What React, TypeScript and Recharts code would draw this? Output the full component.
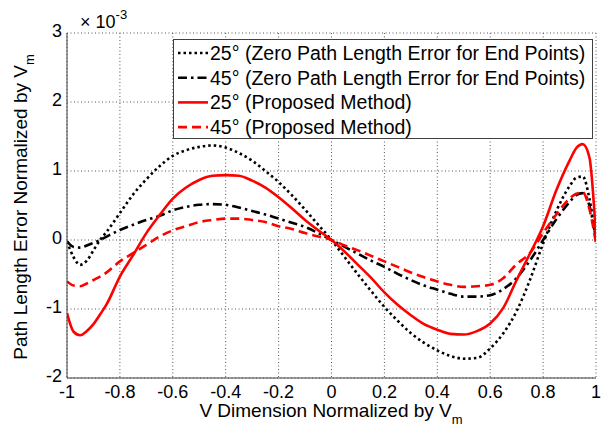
import React from "react";
import { LineChart, Line, XAxis, YAxis, CartesianGrid, Legend } from "recharts";

// x positions (V dimension normalized by Vm)
const xValues = [
  -1, -0.975, -0.95, -0.925, -0.9, -0.875, -0.85,
  -0.8, -0.75, -0.7, -0.65, -0.6, -0.55, -0.5, -0.45, -0.4, -0.35, -0.3, -0.25, -0.2, -0.15, -0.1, -0.05,
  0, 0.05, 0.1, 0.15, 0.2, 0.25, 0.3, 0.35, 0.4, 0.45, 0.5, 0.55, 0.6, 0.65, 0.7, 0.75, 0.8, 0.85, 0.9,
  0.925, 0.95, 0.975, 1,
];

// path length error, in units of 1e-3
const zero25 = [
  -0.02, -0.25, -0.36, -0.3, -0.15, 0.0, 0.12,
  0.39, 0.66, 0.88, 1.07, 1.22, 1.3, 1.35, 1.37, 1.34, 1.26, 1.15, 1.0, 0.84, 0.65, 0.44, 0.22,
  0, -0.25, -0.5, -0.74, -0.97, -1.17, -1.35, -1.49, -1.6, -1.68, -1.72, -1.71, -1.57, -1.35, -1.03, -0.58, -0.05, 0.42, 0.78,
  0.9, 0.92, 0.6, 0.0,
];
const zero45 = [
  -0.02, -0.1, -0.11, -0.08, -0.04, 0.0, 0.05,
  0.145, 0.22, 0.29, 0.35, 0.43, 0.48, 0.51, 0.52, 0.51, 0.47, 0.42, 0.37, 0.31, 0.25, 0.19, 0.1,
  0, -0.1, -0.2, -0.3, -0.39, -0.49, -0.58, -0.66, -0.72, -0.78, -0.82, -0.82, -0.8, -0.71, -0.55, -0.3, 0.0, 0.3, 0.55,
  0.65, 0.68, 0.5, 0.0,
];
const prop25 = [
  -1.06, -1.33, -1.38, -1.32, -1.22, -1.08, -0.93,
  -0.53, -0.22, 0.1, 0.36, 0.6, 0.76, 0.87, 0.93, 0.94, 0.93, 0.86, 0.76, 0.62, 0.46, 0.29, 0.14,
  0, -0.17, -0.36, -0.55, -0.76, -0.94, -1.09, -1.22, -1.3, -1.36, -1.37, -1.32, -1.21, -0.98, -0.58, -0.2, 0.2, 0.72, 1.15,
  1.33, 1.39, 1.2, 0.05,
];
const prop45 = [
  -0.6, -0.66, -0.67, -0.63, -0.58, -0.53, -0.47,
  -0.31, -0.19, -0.07, 0.05, 0.14, 0.2, 0.26, 0.29, 0.31, 0.31, 0.29, 0.26, 0.2, 0.16, 0.1, 0.05,
  0, -0.08, -0.15, -0.23, -0.31, -0.39, -0.47, -0.54, -0.6, -0.65, -0.68, -0.67, -0.65, -0.55, -0.35, -0.19, 0.1, 0.37, 0.6,
  0.67, 0.69, 0.45, -0.05,
];

const xTicks = [-1, -0.8, -0.6, -0.4, -0.2, 0, 0.2, 0.4, 0.6, 0.8, 1];
const yTicks = [-2, -1, 0, 1, 2, 3];

const seriesNames = [
  "25° (Zero Path Length Error for End Points)",
  "45° (Zero Path Length Error for End Points)",
  "25° (Proposed Method)",
  "45° (Proposed Method)",
];

const data = xValues.map((x, i) => ({
  x,
  zero25: zero25[i],
  zero45: zero45[i],
  prop25: prop25[i],
  prop45: prop45[i],
}));

const FONT = "'Liberation Sans', Arial, Helvetica, sans-serif";

const series = [
  { key: "zero25", name: seriesNames[0], color: "#000000", dash: "2.5 3", width: 2.6 },
  { key: "zero45", name: seriesNames[1], color: "#000000", dash: "9 4 2.5 4", width: 2.6 },
  { key: "prop25", name: seriesNames[2], color: "#ff0000", dash: undefined as string | undefined, width: 2.6 },
  { key: "prop45", name: seriesNames[3], color: "#ff0000", dash: "9 5", width: 2.6 },
];

const LegendBox = () => (
  <svg width={420} height={100} style={{ display: "block" }}>
    <rect x={0.5} y={0.5} width={419} height={99} fill="#ffffff" stroke="#404040" strokeWidth={1} />
    {series.map((s, i) => {
      const cy = 14 + i * 24.7;
      return (
        <g key={s.key}>
          <line x1={5} x2={35} y1={cy} y2={cy} stroke={s.color} strokeWidth={s.width} strokeDasharray={s.dash} />
          <text x={37} y={cy + 7} fontSize={19.5} fontFamily={FONT} fill="#000">
            {s.name}
          </text>
        </g>
      );
    })}
  </svg>
);

const fmt = (v: number) => String(Number(v.toFixed(1)));

const YTick = (props: any) => {
  const { x, y, payload } = props;
  return (
    <text x={x} y={y - 2} dy="0.355em" textAnchor="end" fontSize={18} fontFamily={FONT} fill="#000">
      {payload.value}
    </text>
  );
};

export default function App() {
  return (
    <div style={{ position: "relative", width: 600, height: 419 }}>
      <LineChart
        width={600}
        height={419}
        data={data}
        margin={{ top: 25, right: 12, bottom: 19, left: 19 }}
        style={{ background: "#fff" }}
      >
        <CartesianGrid stroke="#555" strokeDasharray="1 2.5" strokeWidth={1} />
        <XAxis
          dataKey="x"
          type="number"
          domain={[-1, 1]}
          ticks={xTicks}
          tickFormatter={fmt}
          allowDataOverflow
          height={30}
          tickSize={0}
          tickMargin={7}
          tickLine={false}
          stroke="#404040"
          tick={{ fill: "#000", fontSize: 18, fontFamily: FONT }}
          interval={0}
        />
        <XAxis xAxisId="top" orientation="top" dataKey="x" type="number" domain={[-1, 1]} ticks={xTicks} height={0} tick={false} tickLine={false} stroke="#404040" />
        <YAxis
          type="number"
          domain={[-2, 3]}
          ticks={yTicks}
          allowDataOverflow
          width={40}
          tickSize={0}
          tickMargin={5}
          tickLine={false}
          stroke="#404040"
          tick={<YTick />}
          interval={0}
        />
        <YAxis yAxisId="right" orientation="right" type="number" domain={[-2, 3]} ticks={yTicks} width={0} tick={false} tickLine={false} stroke="#404040" />
        <Legend
          layout="vertical"
          align="center"
          verticalAlign="middle"
          content={() => <LegendBox />}
          wrapperStyle={{ position: "absolute", left: 165, top: 31, width: 420, height: 100 }}
        />
        {series.map((s) => (
          <Line
            key={s.key}
            dataKey={s.key}
            name={s.name}
            type="monotone"
            stroke={s.color}
            strokeWidth={s.width}
            strokeDasharray={s.dash}
            dot={false}
            activeDot={false}
            isAnimationActive={false}
          />
        ))}
      </LineChart>
      <svg width={600} height={419} style={{ position: "absolute", left: 0, top: 0, pointerEvents: "none" }}>
        <text x={72} y={20} fontSize={18} fontFamily={FONT} fill="#000">
          × 10
          <tspan dy={-9} fontSize={13}>-3</tspan>
        </text>
        <text x={323} y={409} fontSize={19} fontFamily={FONT} fill="#000" textAnchor="middle">
          V Dimension Normalized by V
          <tspan dy={7} fontSize={13}>m</tspan>
        </text>
        <text transform="translate(19,199) rotate(-90)" fontSize={19} fontFamily={FONT} fill="#000" textAnchor="middle">
          Path Length Error Normalized by V
          <tspan dy={7} fontSize={13}>m</tspan>
        </text>
      </svg>
    </div>
  );
}
